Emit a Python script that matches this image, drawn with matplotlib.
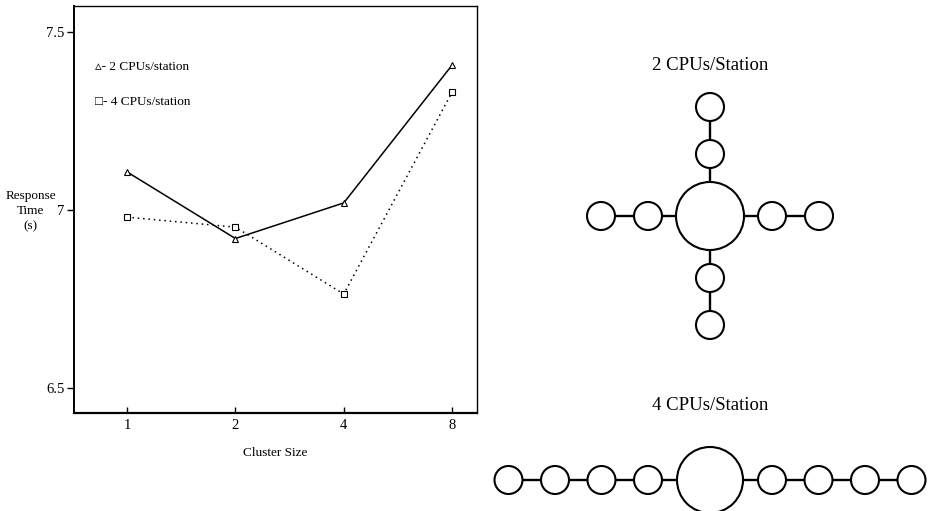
"""Response time vs cluster size, with the two station layouts"""
import matplotlib
matplotlib.use("Agg")
import matplotlib.pyplot as plt
from matplotlib.patches import Circle

plt.rcParams["font.family"] = ["Liberation Serif", "DejaVu Serif"]

cluster_sizes = ["1", "2", "4", "8"]
resp_2cpu = [7.107, 6.920, 7.020, 7.407]
resp_4cpu = [6.980, 6.952, 6.764, 7.331]
y_ticks = [6.5, 7.0, 7.5]
y_tick_labels = ["6.5", "7", "7.5"]

# station layouts: nodes per arm
star_arm_nodes = 2     # 2 CPUs/station, four arms
chain_arm_nodes = 4    # 4 CPUs/station, two arms


def draw_node(ax, x, y, r):
    ax.add_patch(Circle((x, y), r, facecolor="white", edgecolor="black",
                        lw=1.5, zorder=3))


def draw_arm(ax, cx, cy, dx, dy, n, big_r, small_r, first, step):
    """Chain of n small nodes going out from the hub in direction (dx, dy)"""
    prev = (cx + dx * big_r, cy + dy * big_r)
    for i in range(n):
        d = first + i * step
        nx, ny = cx + dx * d, cy + dy * d
        ax.plot([prev[0], nx - dx * small_r], [prev[1], ny - dy * small_r],
                color="black", lw=1.7, zorder=2)
        draw_node(ax, nx, ny, small_r)
        prev = (nx + dx * small_r, ny + dy * small_r)


fig = plt.figure(figsize=(9.31, 5.11), dpi=100)

# ---- line chart
ax = fig.add_axes([74 / 931, 1 - 413 / 511, (477 - 74) / 931, (413 - 6) / 511])
xs = range(len(cluster_sizes))
ax.plot(xs, resp_2cpu, color="black", lw=1.1, marker="^", ms=4,
        mfc="white", mec="black", mew=0.8)
ax.plot(xs, resp_4cpu, color="black", lw=1.1, ls=(0, (1, 2.5)), marker="s",
        ms=4, mfc="white", mec="black", mew=0.8)
ax.set_xlim(-0.49, 3.23)
ax.set_ylim(6.43, 7.573)
ax.set_xticks(list(xs))
ax.set_xticklabels(cluster_sizes, fontsize=10.5)
ax.set_yticks(y_ticks)
ax.set_yticklabels(y_tick_labels, fontsize=10.5)
ax.tick_params(axis="x", direction="in", length=4, width=1, pad=4)
ax.tick_params(axis="y", direction="out", length=5, width=1, pad=2)
for s in ax.spines.values():
    s.set_linewidth(1.0)
ax.spines["bottom"].set_linewidth(1.6)
ax.spines["left"].set_linewidth(1.4)
ax.set_xlabel("Cluster Size", fontsize=9.5, labelpad=11)
ax.text(-0.107, 0.496, "Response\nTime\n(s)", transform=ax.transAxes,
        ha="center", va="center", fontsize=9.5, linespacing=1.35)
ax.text(0.052, 0.85, "\u25b5- 2 CPUs/station", transform=ax.transAxes,
        ha="left", va="center", fontsize=9.5)
ax.text(0.052, 0.763, "\u25a1- 4 CPUs/station", transform=ax.transAxes,
        ha="left", va="center", fontsize=9.5)

# ---- station diagrams, in pixel space
dg = fig.add_axes([0, 0, 1, 1])
dg.set_xlim(0, 931)
dg.set_ylim(511, 0)
dg.set_aspect("equal")
dg.axis("off")
dg.patch.set_alpha(0)

big_r, small_r = 34, 14

# 2 CPUs/station: star
cx, cy = 710, 216
dg.text(cx, 65, "2 CPUs/Station", ha="center", va="center", fontsize=13.5)
draw_node(dg, cx, cy, big_r)
for dx, dy in [(1, 0), (-1, 0), (0, 1), (0, -1)]:
    draw_arm(dg, cx, cy, dx, dy, star_arm_nodes, big_r, small_r, 62, 47)

# 4 CPUs/station: chain
cx, cy = 710, 480
dg.text(cx, 406, "4 CPUs/Station", ha="center", va="center", fontsize=13.5)
draw_node(dg, cx, cy, 33)
for dx in (1, -1):
    draw_arm(dg, cx, cy, dx, 0, chain_arm_nodes, 33, small_r, 62, 46.5)

fig.savefig("out.png", dpi=100)
